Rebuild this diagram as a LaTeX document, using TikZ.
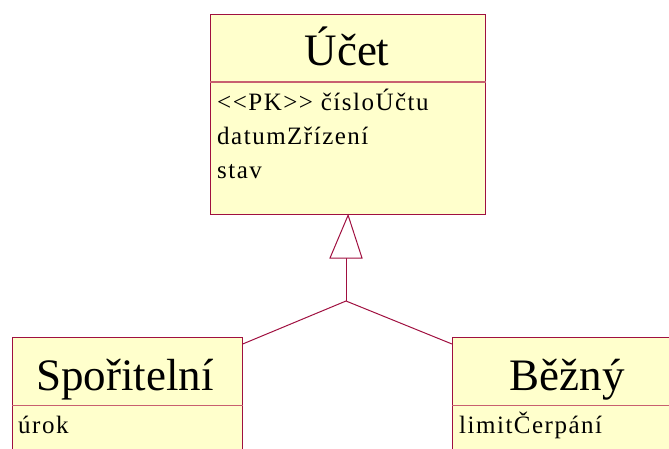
\documentclass[tikz,border=0pt]{standalone}
\usepackage{fontspec}
\setmainfont{Liberation Serif}
\newfontfamily\attrfont[LetterSpace=6,Ligatures=ResetAll]{Liberation Serif}
\definecolor{umlline}{RGB}{160,16,64}
\definecolor{umlsep}{RGB}{200,96,112}
\definecolor{umlfill}{RGB}{255,255,204}
\begin{document}
\begin{tikzpicture}[x=1pt,y=-1pt,
  classbox/.style={draw=umlline, fill=umlfill, line width=1.2pt, anchor=north west, inner sep=0pt},
  compsep/.style={draw=umlsep, line width=1.2pt},
  classname/.style={anchor=base, inner sep=0pt, font=\fontsize{45}{45}\selectfont},
  attr/.style={anchor=base west, inner sep=0pt, font=\attrfont\fontsize{25}{25}\selectfont},
  link/.style={draw=umlline, line width=1pt},
  genhead/.style={draw=umlline, fill=white, line width=1pt, line join=miter}]
  \useasboundingbox (0,0) rectangle (669,448);

  % superclass
  \node[classbox, minimum width=275pt, minimum height=200pt] (ucet) at (210,14) {};
  \draw[compsep] ([yshift=-68pt]ucet.north west) -- ([yshift=-68pt]ucet.north east);
  \node[classname] (ucetname) at (347,65) {Účet};
  \node[attr] (ucetpk) at (217,110.5) {<<PK>> čísloÚčtu};
  \node[attr] (ucetdatum) at (217,144.5) {datumZřízení};
  \node[attr] (ucetstav) at (217,178.3) {stav};

  % subclasses
  \node[classbox, minimum width=229.5pt, minimum height=130pt] (spor) at (12,337) {};
  \draw[compsep] ([yshift=-68.5pt]spor.north west) -- ([yshift=-68.5pt]spor.north east);
  \node[classname] (sporname) at (125,390) {Spořitelní};
  \node[attr] (sporurok) at (18,433) {úrok};

  \node[classbox, minimum width=230pt, minimum height=130pt] (bezny) at (452,337) {};
  \draw[compsep] ([yshift=-68.5pt]bezny.north west) -- ([yshift=-68.5pt]bezny.north east);
  \node[classname] (beznyname) at (567,390) {Běžný};
  \node[attr] (beznylimit) at (459,433) {limitČerpání};

  % generalisation
  \coordinate (headbase) at (346,258);
  \coordinate (fork) at (346,301);
  \coordinate (sporend) at ([yshift=-7pt]spor.north east);
  \coordinate (beznyend) at ([yshift=-7pt]bezny.north west);
  \draw[link] (fork) -- (headbase);
  \draw[link] (sporend) -- (fork) -- (beznyend);
  \draw[genhead] (ucet.south) -- ([xshift=-16pt]headbase) -- ([xshift=16pt]headbase) -- cycle;
\end{tikzpicture}
\end{document}
